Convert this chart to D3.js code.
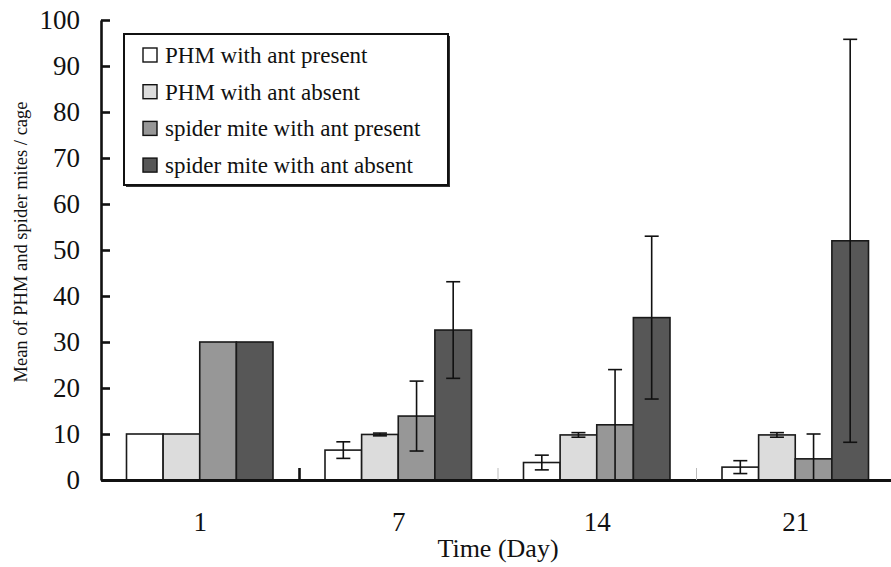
<!DOCTYPE html>
<html>
<head>
<meta charset="utf-8">
<script src="https://cdn.jsdelivr.net/npm/d3@7"></script>
<style>
  body { margin: 0; background: #fff; }
  text { font-family: "Liberation Serif", "Times New Roman", serif; fill: #111; }
</style>
</head>
<body>
<div id="chart"></div>
<script>
var days = ["1", "7", "14", "21"];
var seriesNames = ["PHM with ant present", "PHM with ant absent",
                   "spider mite with ant present", "spider mite with ant absent"];
var phmPresent = [10, 6.5, 3.8, 2.8];
var phmPresentErr = [0, 1.8, 1.6, 1.4];
var phmAbsent = [10, 9.9, 9.8, 9.8];
var phmAbsentErr = [0, 0.3, 0.5, 0.5];
var spiderPresent = [30, 13.9, 12, 4.6];
var spiderPresentErr = [0, 7.6, 12, 5.4];
var spiderAbsent = [30, 32.6, 35.3, 52];
var spiderAbsentErr = [0, 10.5, 17.7, 43.8];
var yTicks = [0, 10, 20, 30, 40, 50, 60, 70, 80, 90, 100];
var fills = ["#ffffff", "#dcdcdc", "#979797", "#575757"];

var values = [phmPresent, phmAbsent, spiderPresent, spiderAbsent];
var errors = [phmPresentErr, phmAbsentErr, spiderPresentErr, spiderAbsentErr];

var width = 891, height = 567;
var plotLeft = 101, plotBottom = 480, plotTop = 20;

var svg = d3.select("#chart").append("svg")
  .attr("width", width)
  .attr("height", height);

var x0 = d3.scaleBand()
  .domain(days)
  .range([plotLeft, 895]);

var x1 = d3.scaleBand()
  .domain(d3.range(seriesNames.length))
  .range([25.5, 172]);

var y = d3.scaleLinear()
  .domain([0, 100])
  .range([plotBottom, plotTop]);

// bars
var groups = svg.selectAll("g.day")
  .data(days)
  .enter().append("g")
  .attr("class", "day")
  .attr("transform", function(d) { return "translate(" + x0(d) + ",0)"; });

groups.selectAll("rect")
  .data(function(d, i) {
    return values.map(function(s, k) { return {k: k, v: s[i], e: errors[k][i]}; });
  })
  .enter().append("rect")
  .attr("x", function(d) { return x1(d.k); })
  .attr("y", function(d) { return y(d.v); })
  .attr("width", x1.bandwidth())
  .attr("height", function(d) { return y(0) - y(d.v); })
  .attr("fill", function(d) { return fills[d.k]; })
  .attr("stroke", "#1a1a1a")
  .attr("stroke-width", 1.6);

// error bars
var errs = groups.selectAll("g.err")
  .data(function(d, i) {
    return values.map(function(s, k) { return {k: k, v: s[i], e: errors[k][i]}; })
      .filter(function(d) { return d.e > 0; });
  })
  .enter().append("g")
  .attr("class", "err")
  .attr("stroke", "#111")
  .attr("stroke-width", 1.6);

errs.append("line")
  .attr("x1", function(d) { return x1(d.k) + x1.bandwidth() / 2; })
  .attr("x2", function(d) { return x1(d.k) + x1.bandwidth() / 2; })
  .attr("y1", function(d) { return y(d.v + d.e); })
  .attr("y2", function(d) { return y(Math.max(0, d.v - d.e)); });

errs.append("line")
  .attr("x1", function(d) { return x1(d.k) + x1.bandwidth() / 2 - 7; })
  .attr("x2", function(d) { return x1(d.k) + x1.bandwidth() / 2 + 7; })
  .attr("y1", function(d) { return y(d.v + d.e); })
  .attr("y2", function(d) { return y(d.v + d.e); });

errs.filter(function(d) { return d.v - d.e > 0.5; })
  .append("line")
  .attr("x1", function(d) { return x1(d.k) + x1.bandwidth() / 2 - 7; })
  .attr("x2", function(d) { return x1(d.k) + x1.bandwidth() / 2 + 7; })
  .attr("y1", function(d) { return y(d.v - d.e); })
  .attr("y2", function(d) { return y(d.v - d.e); });

// y axis
var yAxis = svg.append("g")
  .attr("transform", "translate(" + plotLeft + ",0)")
  .call(d3.axisLeft(y).tickValues(yTicks).tickSizeInner(-9).tickSizeOuter(0).tickPadding(21));
yAxis.select(".domain").attr("stroke", "#111").attr("stroke-width", 2.6);
yAxis.selectAll(".tick line").attr("stroke", "#111").attr("stroke-width", 2.6);
yAxis.selectAll(".tick text")
  .style("font-family", "'Liberation Serif', 'Times New Roman', serif")
  .style("font-size", "27px")
  .attr("fill", "#222");

// x axis
var xAxis = svg.append("g")
  .attr("transform", "translate(0," + plotBottom + ")")
  .call(d3.axisBottom(x0).tickSize(0).tickPadding(32));
xAxis.select(".domain").attr("stroke", "#111").attr("stroke-width", 2.8);
xAxis.selectAll(".tick text")
  .style("font-family", "'Liberation Serif', 'Times New Roman', serif")
  .style("font-size", "27px")
  .attr("fill", "#222");

// small marks between day groups
svg.selectAll("line.sep")
  .data(days.slice(1))
  .enter().append("line")
  .attr("class", "sep")
  .attr("x1", function(d) { return x0(d); })
  .attr("x2", function(d) { return x0(d); })
  .attr("y1", plotBottom - 12)
  .attr("y2", plotBottom)
  .attr("stroke", function(d, i) { return i == 0 ? "#111" : "#bbb"; })
  .attr("stroke-width", function(d, i) { return i == 0 ? 2.6 : 1; });

// axis titles
svg.append("text")
  .attr("x", 498)
  .attr("y", 557)
  .attr("text-anchor", "middle")
  .style("font-size", "26px")
  .text("Time (Day)");

svg.append("text")
  .attr("transform", "translate(27,242) rotate(-90)")
  .attr("text-anchor", "middle")
  .style("font-size", "18.5px")
  .text("Mean of PHM and spider mites / cage");

// legend
var legend = svg.append("g").attr("transform", "translate(124,34)");
legend.append("rect")
  .attr("x", 2).attr("y", 2)
  .attr("width", 324).attr("height", 151)
  .attr("fill", "#333");
legend.append("rect")
  .attr("width", 324).attr("height", 151)
  .attr("fill", "#fff")
  .attr("stroke", "#111")
  .attr("stroke-width", 2);

var items = legend.selectAll("g.item")
  .data(seriesNames)
  .enter().append("g")
  .attr("class", "item")
  .attr("transform", function(d, i) { return "translate(19," + (21 + i * 36.7) + ")"; });

items.append("rect")
  .attr("x", 0).attr("y", -7)
  .attr("width", 14).attr("height", 14)
  .attr("fill", function(d, i) { return fills[i]; })
  .attr("stroke", "#111")
  .attr("stroke-width", 1.4);

items.append("text")
  .attr("x", 22)
  .attr("y", 8)
  .style("font-size", "23px")
  .text(function(d) { return d; });
</script>
</body>
</html>
